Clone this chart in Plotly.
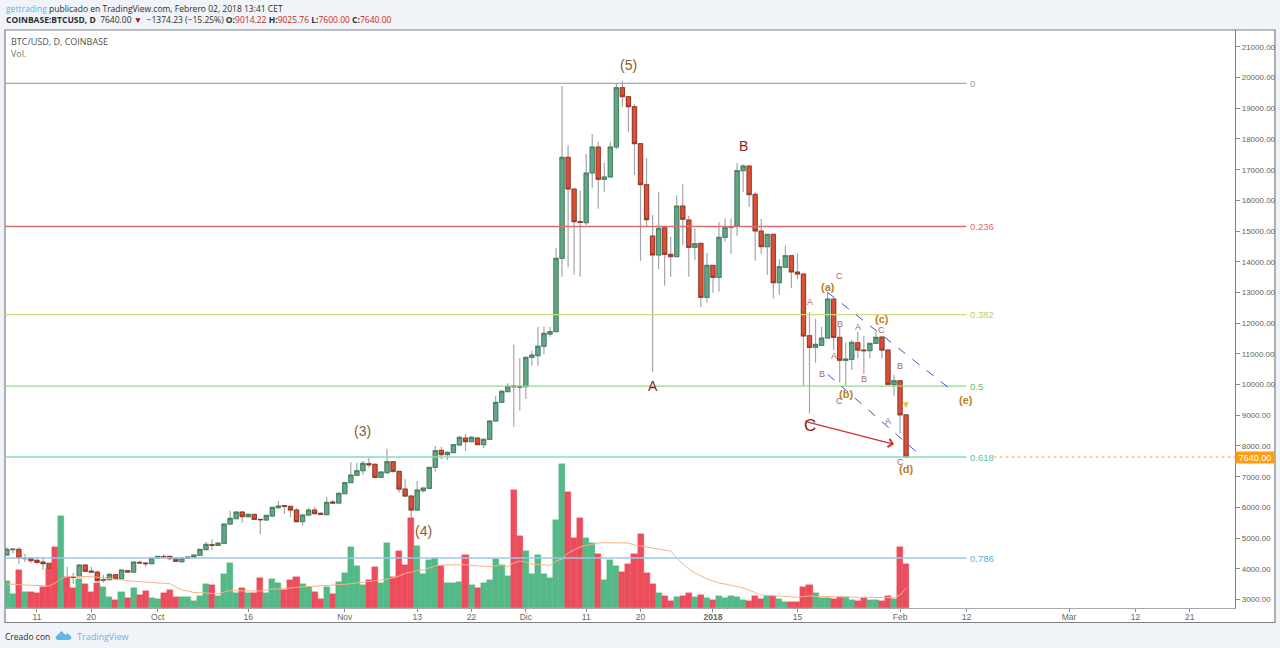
import pandas as pd
import plotly.graph_objects as go

first_day = "2017-09-06"
opens = [4448,4625,4633,4329,4351,4275,4220,4177,3980,3230,3710,3742,3742,4122,3927,3894,3623,3645,3808,3677,3938,3894,4209,4188,4166,
 4351,4394,4405,4340,4231,4340,4372,4438,4622,4785,4763,4828,5458,5632,5849,5697,5773,5610,5589,5719,5990,6056,6034,5914,5534,5751,5914,5806,5762,6175,6142,
 6446,6805,7044,7196,7424,7402,6979,7130,7489,7174,6598,6370,5914,6544,6620,7304,7858,7717,7782,8032,8260,8140,8260,8043,8217,8814,9422,9770,9954,9943,
 9932,10888,10942,11250,11647,11723,14112,17403,16371,15307,15274,16892,17739,16686,16762,17739,19672,19379,19053,17848,16512,14840,14221,15111,14243,14166,15817,15361,14470,14601,12841,
 13884,13493,14796,15122,15166,16968,17120,16197,15003,14492,14894,13319,13819,14199,13667,13601,11593,11212,11277,11516,12787,11538,10789,10821,11364,11125,11104,11343,11549,11125,9996,
 10126,9014.22]
highs = [4698,4660,4698,4481,4372,4394,4394,4199,3990,3780,4068,3873,4155,4144,4068,3938,3797,3851,3829,3981,3960,4242,4264,4220,4372,
 4427,4481,4427,4362,4372,4405,4470,4655,4883,4959,4872,5480,5893,5871,5882,5806,5795,5632,5762,6023,6208,6077,6056,5969,5784,5990,6023,5838,6349,6240,6490,
 6837,7478,7456,7522,7630,7435,7174,7912,7511,7196,6913,6403,6859,6653,7326,7999,7977,7826,8064,8325,8390,8325,8303,8249,8846,9628,9824,10041,11300,10855,
 10910,11100,11886,11886,11886,14438,19727,17794,16393,16317,17511,18163,17913,17229,17913,19792,19900,19401,19129,17870,17381,15524,16284,15144,14818,16165,16523,15502,15090,14622,14297,
 13906,15285,15415,15415,17207,17185,17142,16262,15394,14916,14916,14079,14525,14221,14275,13623,12353,12146,11886,13026,12809,11886,11375,11451,11723,11592,11365,11723,11571,11147,10311,
 10148,9025.76]
lows = [4427,4500,4155,4220,4177,4155,3960,3938,3190,2970,3580,3504,3721,3894,3873,3590,3547,3623,3655,3655,3873,3873,4155,4068,4144,
 4329,4362,4285,4220,4188,4318,4362,4416,4600,4611,4741,4807,5437,5610,5502,5676,5578,5132,5567,5676,5958,5784,5676,5501,5404,5730,5773,5751,5740,6099,6120,
 6425,6783,7022,7055,7300,6946,6957,7087,7130,6479,6327,5643,5892,6490,6598,7163,7565,7543,7760,8010,7836,8119,8021,7923,8195,8792,9400,9748,8629,9150,
 9531,10617,10617,10997,11560,11701,13515,13819,13580,13515,15198,16414,15730,16284,16740,17663,19053,18217,16827,14036,15166,10410,13765,13222,13515,14145,14547,13515,14058,12516,12668,
 12993,13026,14655,14253,14851,16284,15795,14036,14253,13569,12809,12928,13797,13135,13428,9963,9062,10713,11256,11495,11125,10072,9963,10474,10854,10344,10854,11321,10854,9985,9638,
 8410,7600]
closes = [4633,4640,4351,4340,4264,4209,4166,3981,3230,3710,3700,3721,4122,3916,3894,3612,3645,3819,3677,3960,3894,4220,4188,4166,4351,
 4405,4383,4329,4242,4351,4383,4448,4633,4796,4763,4839,5458,5643,5849,5697,5773,5610,5599,5741,6001,6045,6034,5914,5534,5751,5914,5795,5773,6164,6142,6457,
 6805,7055,7196,7435,7391,6979,7152,7489,7174,6598,6370,5914,6566,6631,7304,7847,7717,7793,8043,8282,8140,8282,8043,8217,8814,9422,9780,9943,9932,9922,
 10888,10964,11250,11669,11723,14112,17403,16371,15307,15285,16892,17739,16686,16762,17739,19672,19379,19053,17848,16512,15372,14221,15090,14243,14166,15817,15383,14470,14590,12841,13884,
 13493,14796,15111,15144,16968,17120,16186,15003,14492,14894,13319,13840,14199,13667,13601,11582,11212,11310,11516,12787,11538,10789,10832,11375,11125,11104,11343,11538,11125,10007,10126,
 9014.22,7640]
volumes = [27,14.3,37.7,16.3,16.3,15.3,21,38.7,61.3,92,31.3,19.7,28.7,24,16.3,25.3,21.3,11,7.7,16,9.7,20,13.3,17.3,10,
 9,14.7,18,11,11,11,7,12,24.3,23,12,34,45.3,15.3,20,14.7,15.3,30,15.3,28.7,25,18.3,28,30.7,24,20.7,16,9,21,14,25.7,
 35.3,61,42,23,28,40.7,24.7,65.3,30.7,57.3,43.3,89.7,62.3,34,47.7,50,42.3,25,25,26.3,53,23,20,25,28,49,43,32,117.7,72,
 56.7,34.3,53,34.3,30,87.7,144,115.7,69.7,89.7,69.7,65,54,28,48,42,36,44,54,74.3,35,23.7,15.3,12.3,7.3,11,11.7,14.7,11.3,13,9.7,
 7.7,12.3,10.3,11.7,11,7.7,7,12,9,12,12.3,9,6.3,6,6,21,23,14.7,10,10,9,11.3,11.3,8.3,6.7,10,7.7,8.3,7,12,9,
 61,44.3]
volume_ma = [24,24,23.5,23,23,22.5,22.3,22,25,29.5,31.3,31.5,31.7,31.5,31.2,31,30.2,29.5,29,28,27.5,26.7,26.3,26,25.5,
 25.3,24.8,24.3,21,18,17,15.5,15.3,15,14.5,14.3,16,17.3,17.2,17,17,17,17,18,19,19.1,19.2,20,20.7,21,21.5,22,22.5,22.7,23,23.3,
 23.7,24.3,25,25.7,26,27,28,29,30,32,34.5,36,37.5,38,40,42,43,43.1,43.2,43.3,43.3,42.5,42,41.3,41.3,42,43,41.3,45,47,
 46,43.7,43.3,43,42.7,47,49,55,58,61,62.5,64,65,65.3,65.3,65.3,65.3,65,63,62,61,60.7,59.5,58,57,50,44,39,35,32,29,
 27,25,24,23,21.5,20,18,15.5,13,12.5,12.3,12,11.5,11,10.7,11.5,12,11.7,11.5,11.2,10.8,10.7,10.7,10.7,10.7,10.7,10.5,10.3,10.2,10,10.3,
 13,19.7]

fib_ratios = ["0", "0.236", "0.382", "0.5", "0.618", "0.786"]
fib_prices = [19810, 15150, 12280, 9950, 7640, 4350]
fib_line_colors = ["#a6a6a6", "#d9706f", "#cfd97f", "#8bd98b", "#85dcbc", "#9cc9e0"]
fib_text_colors = ["#9a9a9a", "#e0686a", "#c5cc55", "#62c46a", "#5cc58f", "#55aee0"]
last_price = 7640

price_ticks = [3000,4000,5000,6000,7000,8000,9000,10000,11000,12000,13000,14000,15000,16000,17000,18000,19000,20000,21000]
date_ticks = ["2017-09-11","2017-09-20","2017-10-01","2017-10-16","2017-11-01","2017-11-13","2017-11-22","2017-12-01","2017-12-11","2017-12-20",
              "2018-01-01","2018-01-15","2018-02-01","2018-02-12","2018-03-01","2018-03-12","2018-03-21"]
date_labels = ["11","20","Oct","16","Nov","13","22","Dic","11","20","<b>2018</b>","15","Feb","12","Mar","12","21"]

# wave labels: text, date, price, size, colour
wave_labels = [
 ("(5)","2017-12-18",20410,14,"#8a5a2b"),("(3)","2017-11-04",8490,14,"#8a5a2b"),("(4)","2017-11-14",5230,14,"#8a5a2b"),
 ("B","2018-01-06",17770,14,"#8b1a1a"),("A","2017-12-22",9950,14,"#8b1a1a"),("C","2018-01-17",8680,17,"#8b1a1a"),
 ("<b>(a)</b>","2018-01-20",13180,11,"#b9811c"),("<b>(b)</b>","2018-01-23",9680,11,"#b9811c"),("<b>(c)</b>","2018-01-29",12140,11,"#b9811c"),
 ("<b>(d)</b>","2018-02-02",7250,11,"#b9811c"),("<b>(e)</b>","2018-02-12",9500,11,"#b9811c"),
 ("C","2018-01-22",13540,9,"#b5606f"),("A","2018-01-17",12690,9,"#b5606f"),("B","2018-01-22",11970,9,"#b5606f"),("A","2018-01-21",10930,9,"#b5606f"),
 ("B","2018-01-19",10350,9,"#b5606f"),("C","2018-01-22",9470,9,"#b5606f"),("A","2018-01-25",11880,9,"#b5606f"),("B","2018-01-26",10180,9,"#b5606f"),
 ("C","2018-01-29",11780,9,"#b5606f"),("B","2018-02-01",10600,9,"#b5606f"),("A","2018-01-30",8810,9,"#b5606f"),("C","2018-02-01",7480,9,"#b5606f"),
 ("▼","2018-02-02",9350,10,"#efc02f"),
]
dashed_lines = [("2018-01-20",13007,"2018-02-09 16:00",9800),("2018-01-20",10335,"2018-02-04",7760)]
arrow_line = ("2018-01-16",8815,"2018-01-31",8055)

assert all(len(a) == len(opens) for a in (highs, lows, closes, volumes, volume_ma))
dates = pd.date_range(first_day, periods=len(opens))
GREEN, RED = "#53b987", "#eb4d5c"
bar_colors = [GREEN if c >= o else RED for o, c in zip(opens, closes)]
body_hi = [max(o, c) for o, c in zip(opens, closes)]
body_lo = [min(o, c) for o, c in zip(opens, closes)]

L, R, T, B = 4.5, 1235.5, 30, 608
W, H = 1280, 648
px = lambda x: (x - L) / (R - L)
py = lambda y: (B - y) / (B - T)

fig = go.Figure()
fig.add_trace(go.Candlestick(x=dates, open=opens, high=highs, low=lows, close=closes, hoverinfo="skip",
    increasing=dict(line=dict(color="#a6a6a6", width=1.2), fillcolor="#60a885"),
    decreasing=dict(line=dict(color="#a6a6a6", width=1.2), fillcolor="#dd4f35"), showlegend=False))
fig.add_trace(go.Candlestick(x=dates, open=opens, high=body_hi, low=body_lo, close=closes, hoverinfo="skip",
    increasing=dict(line=dict(color="#3a7a5c", width=0.8), fillcolor="#60a885"),
    decreasing=dict(line=dict(color="#8e2f1f", width=0.8), fillcolor="#dd4f35"), showlegend=False))
fig.add_trace(go.Bar(x=dates, y=volumes, yaxis="y2", marker=dict(color=bar_colors, line=dict(width=0.4, color=bar_colors)), hoverinfo="skip", showlegend=False))
fig.add_trace(go.Scatter(x=dates, y=volume_ma, yaxis="y2", mode="lines", line=dict(color="#f5b488", width=1), hoverinfo="skip", showlegend=False))

shapes = [dict(type="rect", xref="paper", yref="paper", x0=px(4.5), x1=px(1275.5), y0=py(622.5), y1=py(30),
               fillcolor="white", line=dict(color="#7d7f83", width=1.2), layer="below")]
range_start, range_end = "2017-09-05 16:48", "2018-03-28 12:00"
annotations = []
for ratio, price, lc, tc in zip(fib_ratios, fib_prices, fib_line_colors, fib_text_colors):
    shapes.append(dict(type="line", xref="x", yref="y", x0=range_start, x1="2018-02-12", y0=price, y1=price, line=dict(color=lc, width=1.4)))
    annotations.append(dict(x="2018-02-12 06:00", y=price, xref="x", yref="y", text=ratio, showarrow=False, xanchor="left", font=dict(size=9.5, color=tc)))
for x0, y0, x1, y1 in dashed_lines:
    shapes.append(dict(type="line", xref="x", yref="y", x0=x0, x1=x1, y0=y0, y1=y1, line=dict(color="#3f4fd0", width=1, dash="dash")))
shapes.append(dict(type="line", xref="x", yref="y", x0="2018-02-16 12:00", x1=range_end, y0=last_price, y1=last_price, line=dict(color="#f5a623", width=1, dash="dot")))
shapes.append(dict(type="path", xref="paper", yref="paper",
    path=f"M {px(55)} {py(637)} L {px(61)} {py(631)} L {px(65)} {py(635)} L {px(67)} {py(633)} L {px(71)} {py(637)} Q {px(71)} {py(640)} {px(68)} {py(640)} L {px(58)} {py(640)} Q {px(55)} {py(640)} {px(55)} {py(637)} Z",
    fillcolor="#5fb8e8", line=dict(width=0), layer="above"))

for text, d, p, size, color in wave_labels:
    annotations.append(dict(x=d, y=p, xref="x", yref="y", text=text, showarrow=False, font=dict(size=size, color=color)))
a0, b0, a1, b1 = arrow_line
annotations.append(dict(x=a1, y=b1, ax=a0, ay=b0, xref="x", yref="y", axref="x", ayref="y", text="", showarrow=True,
                        arrowhead=4, arrowsize=1.2, arrowwidth=1.4, arrowcolor="#d23030"))

def note(x, y, text, size=9, color="#2e2e2e", family="Open Sans", **kw):
    annotations.append(dict(x=px(x), y=py(y), xref="paper", yref="paper", text=text, showarrow=False, xanchor="left", yanchor="middle",
                            font=dict(size=size, color=color, family=family), **kw))

rv = lambda s: f'<span style="color:#c62828">{s}</span>'
note(3, 8, '<span style="color:#5bb5e6">gettrading</span> publicado en TradingView.com, Febrero 02, 2018 13:41 CET', size=8.5)
note(3, 20, f'<b>COINBASE:BTCUSD, D</b> \u00a07640.00 <span style="color:#a01515">▼</span> \u00a0−1374.23 (−15.25%) <b>O:</b>{rv("9014.22")} <b>H:</b>{rv("9025.76")} <b>L:</b>{rv("7600.00")} <b>C:</b>{rv("7640.00")}', size=8.5)
note(8.5, 42, "BTC/USD, D, COINBASE", size=9, color="#505050")
note(8.5, 54, "Vol.", size=9, color="#777777")
note(2, 636, "Creado con", size=8.5)
note(75, 636, "TradingView", size=9, color="#5fb8e8")
annotations.append(dict(x=px(1255.5), y=py(457), xref="paper", yref="paper", text="7640.00", showarrow=False, bgcolor="#ff9c12",
                        xanchor="center", yanchor="middle", width=38, height=11, borderpad=0,
                        font=dict(size=9, color="white", family="Liberation Sans")))

fig.update_layout(
    width=W, height=H, autosize=False, margin=dict(l=L, r=W - R, t=T, b=H - B, pad=0),
    paper_bgcolor="#f0f3f8", plot_bgcolor="rgba(0,0,0,0)", bargap=0, boxgap=0.3, boxgroupgap=0, boxmode="overlay",
    font=dict(family="Liberation Sans", color="#666666"), shapes=shapes, annotations=annotations, showlegend=False,
    xaxis=dict(type="date", range=[range_start, range_end], rangeslider=dict(visible=False), tickmode="array", tickvals=date_ticks, ticktext=date_labels,
               tickfont=dict(size=8.5, color="#666666"), ticks="outside", ticklen=3, tickcolor="#8a8a8a", showgrid=False, zeroline=False,
               showline=True, linecolor="#a8a8a8", linewidth=1.4, tickangle=0, ticklabelstandoff=-2),
    yaxis=dict(side="right", range=[2723, 21550], tickmode="array", tickvals=price_ticks, ticktext=[f"{p:.2f}" for p in price_ticks],
               tickfont=dict(size=8, color="#5f5f5f"), ticks="outside", ticklen=4, tickcolor="#8a8a8a", showgrid=False, zeroline=False,
               showline=True, linecolor="#7d7f83", linewidth=1.2, mirror=False),
    yaxis2=dict(overlaying="y", side="left", range=[0, 578], visible=False, showgrid=False, zeroline=False),
)
fig.write_html("out.html", config=dict(displayModeBar=False),
               post_script="document.body.style.margin='0';document.documentElement.style.overflow='hidden';")
